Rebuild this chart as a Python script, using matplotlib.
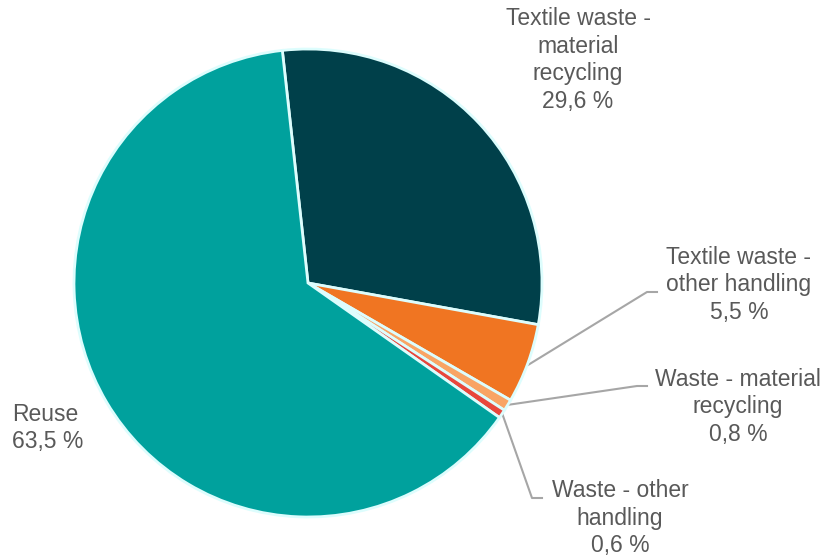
import matplotlib.pyplot as plt

plt.rcParams['font.family'] = ['Liberation Sans', 'DejaVu Sans']

# Data (clockwise from the top)
categories = ['Textile waste -\nmaterial\nrecycling',
              'Textile waste -\nother handling',
              'Waste - material\nrecycling',
              'Waste - other\nhandling',
              'Reuse']
shares = [29.6, 5.5, 0.8, 0.6, 63.5]
colors = ['#00404A', '#F07522', '#F9A464', '#E8473C', '#00A19D']

W, H = 827, 560
fig = plt.figure(figsize=(W / 100, H / 100), dpi=100)
ax = fig.add_axes([0, 0, 1, 1])

# pixel -> data (y upwards)
def py(y):
    return H - y

cx, cy, r = 308, 283, 234
ax.pie(shares, colors=colors, startangle=96.3, counterclock=False,
       center=(cx, py(cy)), radius=r,
       wedgeprops=dict(edgecolor='#DDFDFD', linewidth=2))

ax.set_xlim(0, W)
ax.set_ylim(0, H)
ax.set_aspect('equal')
ax.axis('off')

txt_color = '#595959'
line_color = '#A6A6A6'

def label(i, x, y, ha='center'):
    s = f"{categories[i]}\n{shares[i]:.1f} %".replace('.', ',')
    ax.text(x, py(y), s, ha=ha, va='center', multialignment=ha,
            fontsize=16.5, color=txt_color, linespacing=1.25)

label(0, 578, 60)
label(1, 739, 285)
label(2, 738, 407)
label(3, 620, 518)
label(4, 12, 428, ha='left')

# leader lines
leaders = [
    [(528, 365), (647, 292), (657, 292)],
    [(507, 405), (637, 386), (647, 386)],
    [(502, 413), (532, 498), (542, 498)],
]
for pts in leaders:
    xs = [p[0] for p in pts]
    ys = [py(p[1]) for p in pts]
    ax.plot(xs, ys, color=line_color, linewidth=1.5, zorder=0.5)

fig.savefig('out.png', dpi=100)
